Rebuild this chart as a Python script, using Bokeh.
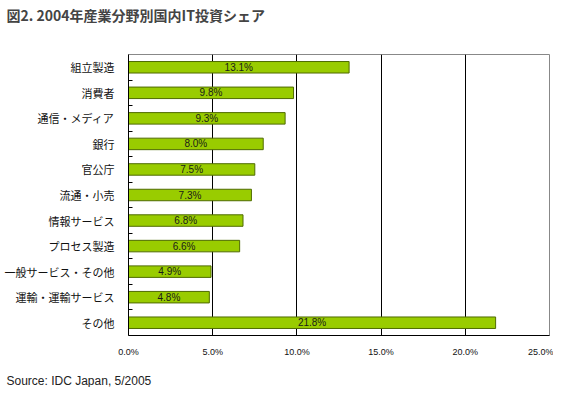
from bokeh.plotting import figure
from bokeh.models import ColumnDataSource, FixedTicker, Range1d, Title
from bokeh.core.properties import value
from bokeh.embed import file_html
from bokeh.resources import INLINE

categories = ["組立製造", "消費者", "通信・メディア", "銀行", "官公庁", "流通・小売",
              "情報サービス", "プロセス製造", "一般サービス・その他", "運輸・運輸サービス", "その他"]
shares = [13.1, 9.8, 9.3, 8.0, 7.5, 7.3, 6.8, 6.6, 4.9, 4.8, 21.8]
x_ticks = [0, 5, 10, 15, 20, 25]
x_tick_labels = ["0.0%", "5.0%", "10.0%", "15.0%", "20.0%", "25.0%"]
title_text = "図2. 2004年産業分野別国内IT投資シェア"
source_text = "Source: IDC Japan, 5/2005"

idx = list(range(len(categories)))
src = ColumnDataSource(dict(
    y=idx, v=shares, half=[s / 2 for s in shares],
    lab=["%.1f%%" % s for s in shares],
))

JP = "Noto Sans CJK JP"

p = figure(width=553, height=387, output_backend="svg", toolbar_location=None,
           x_range=Range1d(0, 25), y_range=Range1d(len(categories) - 0.5, -0.5),
           min_border_left=128, min_border_right=4, min_border_top=54, min_border_bottom=50)

p.hbar(y="y", right="v", left=0, height=0.45, source=src,
       fill_color="#99CC00", line_color="#4F6B00", line_width=1)
p.text(x="half", y="y", text="lab", source=src, text_align="center", text_baseline="middle",
       text_font=value("Liberation Sans"), text_font_size="10px", text_color="#1a1a1a")

# axes
p.yaxis.ticker = FixedTicker(ticks=idx, minor_ticks=[i + 0.5 for i in idx[:-1]])
p.yaxis.major_label_overrides = {i: c for i, c in zip(idx, categories)}
p.yaxis.major_tick_line_color = None
p.yaxis.minor_tick_in = 4
p.yaxis.minor_tick_out = 0
p.yaxis.minor_tick_line_color = "black"
p.yaxis.axis_line_color = "black"
p.yaxis.major_label_text_font = JP
p.yaxis.major_label_text_font_size = "11px"
p.yaxis.major_label_text_color = "#111111"
p.yaxis.major_label_standoff = 8

p.xaxis.ticker = FixedTicker(ticks=x_ticks)
p.xaxis.major_label_overrides = {t: l for t, l in zip(x_ticks, x_tick_labels)}
p.xaxis.major_tick_line_color = None
p.xaxis.minor_tick_line_color = None
p.xaxis.axis_line_color = "black"
p.xaxis.major_label_text_font = "Liberation Sans"
p.xaxis.major_label_text_font_size = "9px"
p.xaxis.major_label_text_color = "#111111"
p.xaxis.major_label_standoff = 5

p.ygrid.grid_line_color = None
p.xgrid.ticker = FixedTicker(ticks=x_ticks[1:-1])
p.xgrid.grid_line_color = "black"
p.xgrid.grid_line_width = 1

p.outline_line_color = "#888888"
p.outline_line_width = 1

# spacer between frame and title (closest to frame)
p.add_layout(Title(text=" ", text_font_size="1px", standoff=21), "above")

p.title.text = title_text
p.title.text_font = JP
p.title.text_font_size = "14px"
p.title.text_font_style = "bold"
p.title.align = "left"
p.title.vertical_align = "top"
p.title.offset = -122
p.title.standoff = 8

# spacer between x axis and source note
p.add_layout(Title(text=" ", text_font_size="1px", standoff=9), "below")
p.add_layout(Title(text=source_text, align="left", offset=-122, standoff=0,
                   text_font="Liberation Sans", text_font_size="12px",
                   text_font_style="normal", text_color="#222222"), "below")

open("out.html", "w").write(file_html(p, INLINE))
